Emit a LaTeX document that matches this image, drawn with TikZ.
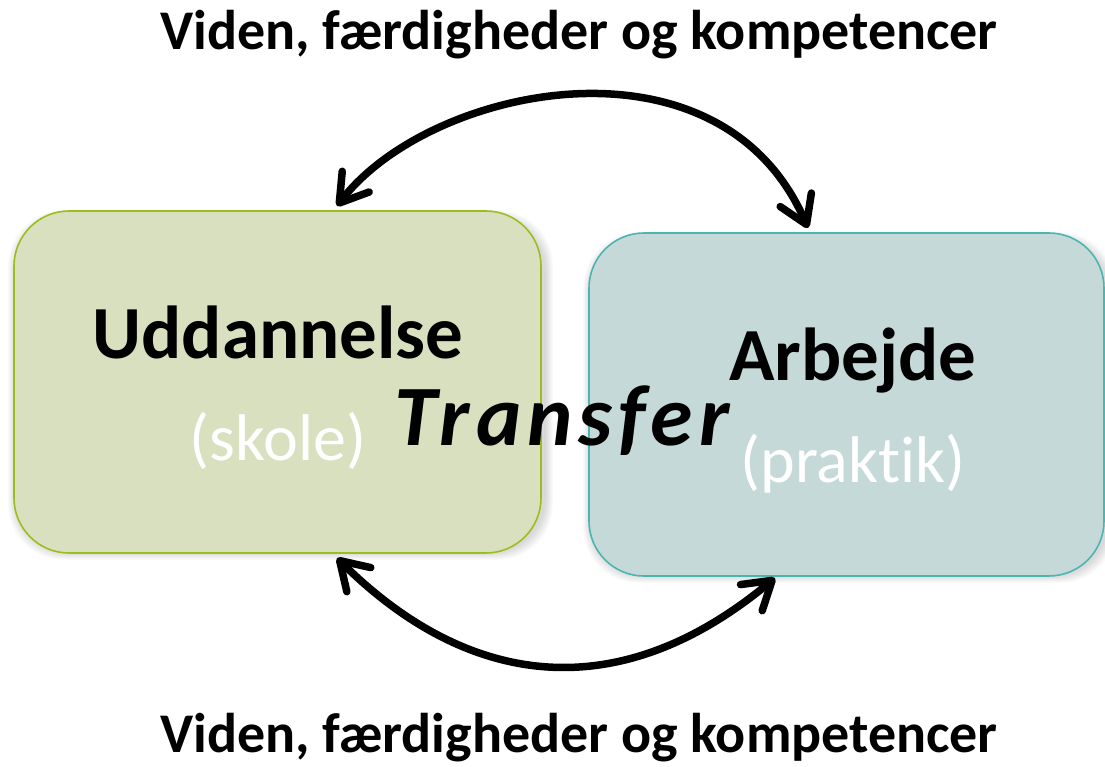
\documentclass[tikz,border=0pt]{standalone}
\usepackage{fontspec}
\setmainfont{Carlito}
\usetikzlibrary{arrows.meta,calc,backgrounds}
\definecolor{lfill}{RGB}{216,224,191}
\definecolor{ldraw}{RGB}{155,190,30}
\definecolor{rfill}{RGB}{198,217,217}
\definecolor{rdraw}{RGB}{75,182,176}
\tikzset{
  boxL/.style={draw=ldraw, fill=lfill, line width=1.6pt, rounded corners=55pt, minimum width=527pt, minimum height=342pt, inner sep=0pt},
  boxR/.style={draw=rdraw, fill=rfill, line width=1.6pt, rounded corners=55pt, minimum width=515pt, minimum height=343pt, inner sep=0pt},
  head/.style={font=\bfseries\fontsize{75}{75}\selectfont, anchor=base, inner sep=0pt},
  sub/.style={font=\fontsize{66}{66}\selectfont, text=white, anchor=base, inner sep=0pt},
  ttl/.style={font=\bfseries\fontsize{56}{56}\selectfont, anchor=base, inner sep=0pt},
  tf/.style={font=\bfseries\itshape\fontsize{86}{86}\selectfont\addfontfeature{LetterSpace=7}, anchor=base, inner sep=0pt},
  barb/.tip={Straight Barb[length=27pt,width=34pt,line cap=round,line join=round]},
  arc/.style={line width=7.5pt, line cap=round, barb-barb}
}
\begin{document}
\begin{tikzpicture}[x=1pt,y=-1pt]
\useasboundingbox (0,0) rectangle (1105,767);
\node[boxL] (L) at (277.5,382) {};
\node[boxR] (R) at (846.5,404.5) {};
\begin{scope}[on background layer]
  \foreach \g in {1,...,8}{
    \fill[black,opacity=0.02,rounded corners=55pt]
      ($(L.south west)+(3-\g,-2+\g)$) rectangle ($(L.north east)+(3+\g,8-\g)$);
    \fill[black,opacity=0.02,rounded corners=55pt]
      ($(R.south west)+(3-\g,-2+\g)$) rectangle ($(R.north east)+(3+\g,8-\g)$);
  }
\end{scope}
\node[head] (Lt) at (278,358) {Uddannelse};
\node[sub] (Ls) at (278,460) {(skole)};
\node[head] (Rt) at (853,380) {Arbejde};
\node[sub] (Rs) at (853,482) {(prakt\kern0pt ik)};
\node[tf] (T) at (562,445) {Transfer};
\node[ttl] (top) at (579,50) {Viden, færdigheder og kompetencer};
\node[ttl] (bot) at (579,752) {Viden, færdigheder og kompetencer};
\coordinate (a1) at (337,206);
\coordinate (a2) at (808,228);
\coordinate (b1) at (337,558);
\coordinate (b2) at (775,578);
\draw[arc] (a1) .. controls (430,85) and (720,25) .. (a2);
\draw[arc] (b1) .. controls (460,680) and (610,715) .. (b2);
\end{tikzpicture}
\end{document}
